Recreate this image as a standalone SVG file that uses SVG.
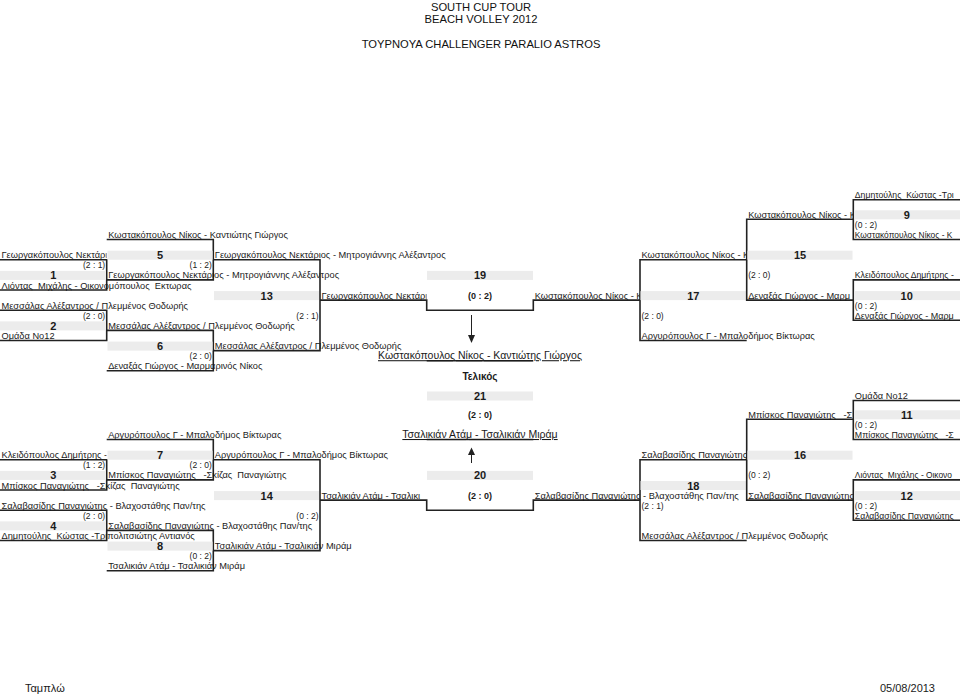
<svg xmlns="http://www.w3.org/2000/svg" width="960" height="694" viewBox="0 0 960 694" xml:space="preserve">
<style>
text{font-family:"Liberation Sans",Arial,sans-serif;fill:#1a1a1a;white-space:pre}
.t{font-size:9.25px}
.t2{font-size:8.4px}
.s{font-size:8.5px;fill:#222}
.e{text-anchor:end}
.c{text-anchor:middle}
.n{font-size:11px;font-weight:bold;text-anchor:middle}
.cs{font-size:9px;font-weight:bold;text-anchor:middle}
.w{font-size:10.5px;text-anchor:middle;text-decoration:underline}
.ti{font-size:11.2px;text-anchor:middle;fill:#111}
.b{fill:#ececec}
.l{stroke:#222;stroke-width:1.6;fill:none}
.a{stroke:#222;stroke-width:1;fill:none}
</style>
<defs>
<clipPath id="c1"><rect x="0" y="0" width="106.7" height="694"/></clipPath>
<clipPath id="c4"><rect x="0" y="0" width="426.7" height="694"/></clipPath>
<clipPath id="c6"><rect x="0" y="0" width="640" height="694"/></clipPath>
<clipPath id="c7"><rect x="0" y="0" width="746.7" height="694"/></clipPath>
<clipPath id="c8"><rect x="0" y="0" width="853.3" height="694"/></clipPath>
</defs>
<rect width="960" height="694" fill="#fff"/>

<g id="title">
<text class="ti" x="481" y="10.5">SOUTH CUP TOUR</text>
<text class="ti" x="481" y="23">BEACH VOLLEY 2012</text>
<text class="ti" x="481" y="48">TOYPNOYA CHALLENGER PARALIO ASTROS</text>
</g>

<!-- TOP HALF -->
<g id="m1">
<path class="l" d="M0 259.7H106.7V290H0"/>
<rect class="b" x="0" y="270.9" width="106" height="9"/>
<text class="n" x="53.3" y="279.4">1</text>
<text class="t" x="1.5" y="258.2" clip-path="url(#c1)">Γεωργακόπουλος Νεκτάρι</text>
<text class="s e" x="105.2" y="268.3">(2 : 1)</text>
<text class="t" x="1.5" y="288.5">Λιόντας  Μιχάλης - Οικονομόπουλος  Εκτωρας</text>
</g>
<g id="m2">
<path class="l" d="M0 310.2H106.7V340.5H0"/>
<rect class="b" x="0" y="321.4" width="106" height="9"/>
<text class="n" x="53.3" y="329.9">2</text>
<text class="t" x="1.5" y="308.7">Μεσσάλας Αλέξαντρος / Πλεμμένος Θοδωρής</text>
<text class="s e" x="105.2" y="318.8">(2 : 0)</text>
<text class="t" x="1.5" y="339">Ομάδα Νο12</text>
</g>
<g id="m5">
<path class="l" d="M106.7 239.5H213.3V279.9H106.7"/>
<rect class="b" x="107.5" y="250.7" width="105" height="9"/>
<text class="n" x="160" y="259.2">5</text>
<text class="t" x="108.2" y="238">Κωστακόπουλος Νίκος - Καντιώτης Γιώργος</text>
<text class="s e" x="211.8" y="268.3">(1 : 2)</text>
<text class="t" x="108.2" y="278.4">Γεωργακόπουλος Νεκτάριος - Μητρογιάννης Αλέξαντρος</text>
</g>
<g id="m6">
<path class="l" d="M106.7 330.4H213.3V370.8H106.7"/>
<rect class="b" x="107.5" y="341.6" width="105" height="9"/>
<text class="n" x="160" y="350.1">6</text>
<text class="t" x="108.2" y="328.9">Μεσσάλας Αλέξαντρος / Πλεμμένος Θοδωρής</text>
<text class="s e" x="211.8" y="359.2">(2 : 0)</text>
<text class="t" x="108.2" y="369.3">Δεναξάς Γιώργος - Μαρμαρινός Νίκος</text>
</g>
<g id="m13">
<path class="l" d="M213.3 259.7H320V350.6H213.3"/>
<rect class="b" x="214" y="291.1" width="105" height="9"/>
<text class="n" x="266.7" y="299.6">13</text>
<text class="t" x="214.8" y="258.2">Γεωργακόπουλος Νεκτάριος - Μητρογιάννης Αλέξαντρος</text>
<text class="s e" x="318.5" y="318.8">(2 : 1)</text>
<text class="t" x="214.8" y="349.1">Μεσσάλας Αλέξαντρος / Πλεμμένος Θοδωρής</text>
</g>
<g id="m19">
<path class="l" d="M320 300.1H426.7V310.2H533.3V300.1H640"/>
<rect class="b" x="427" y="270.9" width="106" height="9"/>
<text class="n" x="480" y="279.4">19</text>
<text class="t" x="321.5" y="298.6" clip-path="url(#c4)">Γεωργακόπουλος Νεκτάρι</text>
<text class="cs" x="480" y="298.6">(0 : 2)</text>
<text class="t" x="534.8" y="298.6" clip-path="url(#c6)">Κωστακόπουλος Νίκος - Κ</text>
</g>
<g id="final-top">
<line class="l" x1="426.7" y1="360.7" x2="533.3" y2="360.7"/>
<text class="w" x="480" y="359.2">Κωστακόπουλος Νίκος - Καντιώτης Γιώργος</text>
<text class="c" x="480" y="379.6" style="font-size:10px;font-weight:bold">Τελικός</text>
</g>
<g id="m17">
<path class="l" d="M746.7 259.7H640V340.5H746.7"/>
<rect class="b" x="640.5" y="291.1" width="106" height="9"/>
<text class="n" x="693.3" y="299.6">17</text>
<text class="t" x="641.5" y="258.2" clip-path="url(#c7)">Κωστακόπουλος Νίκος - Κ</text>
<text class="s" x="641.5" y="318.8">(2 : 0)</text>
<text class="t" x="641.5" y="339">Αργυρόπουλος Γ - Μπαλοδήμος Βίκτωρας</text>
</g>
<g id="m15">
<path class="l" d="M853.3 219.3H746.7V300.1H853.3"/>
<rect class="b" x="747.5" y="250.7" width="105" height="9"/>
<text class="n" x="800" y="259.2">15</text>
<text class="t" x="748.2" y="217.8" clip-path="url(#c8)">Κωστακόπουλος Νίκος - Κ</text>
<text class="s" x="748.2" y="278.4">(2 : 0)</text>
<text class="t" x="748.2" y="298.6" clip-path="url(#c8)">Δεναξάς Γιώργος - Μαρμ</text>
</g>
<g id="m9">
<path class="l" d="M960 199.8H853.3V239.5H960"/>
<rect class="b" x="854" y="210.3" width="106" height="9"/>
<text class="n" x="906.7" y="218.8">9</text>
<text class="t" x="854.8" y="198.3" textLength="99" lengthAdjust="spacingAndGlyphs">Δημητούλης  Κώστας -Τρι</text>
<text class="s" x="854.8" y="227.9">(0 : 2)</text>
<text class="t2" x="854.8" y="238">Κωστακόπουλος Νίκος - Κ</text>
</g>
<g id="m10">
<path class="l" d="M960 279.9H853.3V320.3H960"/>
<rect class="b" x="854" y="291.1" width="106" height="9"/>
<text class="n" x="906.7" y="299.6">10</text>
<text class="t" x="854.8" y="278.4" textLength="99" lengthAdjust="spacingAndGlyphs">Κλειδόπουλος Δημήτρης -</text>
<text class="s" x="854.8" y="308.7">(0 : 2)</text>
<text class="t" x="854.8" y="318.8" textLength="99" lengthAdjust="spacingAndGlyphs">Δεναξάς Γιώργος - Μαρμ</text>
</g>

<!-- BOTTOM HALF -->
<g id="m21">
<rect class="b" x="427" y="391.5" width="106" height="9"/>
<text class="n" x="480" y="400">21</text>
<text class="cs" x="480" y="417.8">(2 : 0)</text>
<line class="l" x1="426.7" y1="439.5" x2="533.3" y2="439.5"/>
<text class="w" x="480" y="438">Τσαλικιάν Ατάμ - Τσαλικιάν Μιράμ</text>
</g>
<g id="m3">
<path class="l" d="M0 459.7H106.7V490H0"/>
<rect class="b" x="0" y="470.9" width="106" height="9"/>
<text class="n" x="53.3" y="479.4">3</text>
<text class="t" x="1.5" y="458.2" clip-path="url(#c1)">Κλειδόπουλος Δημήτρης -</text>
<text class="s e" x="105.2" y="468.3">(1 : 2)</text>
<text class="t" x="1.5" y="488.5">Μπίσκος Παναγιώτης   -Σκίζας  Παναγιώτης</text>
</g>
<g id="m4">
<path class="l" d="M0 510.2H106.7V540.5H0"/>
<rect class="b" x="0" y="521.4" width="106" height="9"/>
<text class="n" x="53.3" y="529.9">4</text>
<text class="t" x="1.5" y="508.7">Σαλαβασίδης Παναγιώτης - Βλαχοστάθης Παν/της</text>
<text class="s e" x="105.2" y="518.8">(2 : 0)</text>
<text class="t" x="1.5" y="539">Δημητούλης  Κώστας -Τριπολιτσιώτης Αντιανός</text>
</g>
<g id="m7">
<path class="l" d="M106.7 439.5H213.3V479.9H106.7"/>
<rect class="b" x="107.5" y="450.7" width="105" height="9"/>
<text class="n" x="160" y="459.2">7</text>
<text class="t" x="108.2" y="438">Αργυρόπουλος Γ - Μπαλοδήμος Βίκτωρας</text>
<text class="s e" x="211.8" y="468.3">(2 : 0)</text>
<text class="t" x="108.2" y="478.4">Μπίσκος Παναγιώτης   -Σκίζας  Παναγιώτης</text>
</g>
<g id="m8">
<path class="l" d="M106.7 530.4H213.3V570.8H106.7"/>
<rect class="b" x="107.5" y="541.6" width="105" height="9"/>
<text class="n" x="160" y="550.1">8</text>
<text class="t" x="108.2" y="528.9">Σαλαβασίδης Παναγιώτης - Βλαχοστάθης Παν/της</text>
<text class="s e" x="211.8" y="559.2">(0 : 2)</text>
<text class="t" x="108.2" y="569.3">Τσαλικιάν Ατάμ - Τσαλικιάν Μιράμ</text>
</g>
<g id="m14">
<path class="l" d="M213.3 459.7H320V550.6H213.3"/>
<rect class="b" x="214" y="491.1" width="105" height="9"/>
<text class="n" x="266.7" y="499.6">14</text>
<text class="t" x="214.8" y="458.2">Αργυρόπουλος Γ - Μπαλοδήμος Βίκτωρας</text>
<text class="s e" x="318.5" y="518.8">(0 : 2)</text>
<text class="t" x="214.8" y="549.1">Τσαλικιάν Ατάμ - Τσαλικιάν Μιράμ</text>
</g>
<g id="m20">
<path class="l" d="M320 500.1H426.7V510.2H533.3V500.1H640"/>
<rect class="b" x="427" y="470.9" width="106" height="9"/>
<text class="n" x="480" y="479.4">20</text>
<text class="t" x="321.5" y="498.6" clip-path="url(#c4)">Τσαλικιάν Ατάμ - Τσαλικι</text>
<text class="cs" x="480" y="498.6">(2 : 0)</text>
<text class="t" x="534.8" y="498.6" clip-path="url(#c7)">Σαλαβασίδης Παναγιώτης - Βλαχοστάθης Παν/της</text>
</g>
<g id="m18">
<path class="l" d="M746.7 459.7H640V540.5H746.7"/>
<rect class="b" x="640.5" y="481" width="106" height="9"/>
<text class="n" x="693.3" y="489.5">18</text>
<text class="t" x="641.5" y="458.2" clip-path="url(#c7)">Σαλαβασίδης Παναγιώτης</text>
<text class="s" x="641.5" y="508.7">(2 : 1)</text>
<text class="t" x="641.5" y="539">Μεσσάλας Αλέξαντρος / Πλεμμένος Θοδωρής</text>
</g>
<g id="m16">
<path class="l" d="M853.3 419.3H746.7V500.1H853.3"/>
<rect class="b" x="747.5" y="450.7" width="105" height="9"/>
<text class="n" x="800" y="459.2">16</text>
<text class="t" x="748.2" y="417.8" clip-path="url(#c8)">Μπίσκος Παναγιώτης   -Σ</text>
<text class="s" x="748.2" y="478.4">(0 : 2)</text>
<text class="t" x="748.2" y="498.6" clip-path="url(#c8)">Σαλαβασίδης Παναγιώτης</text>
</g>
<g id="m11">
<path class="l" d="M960 400.5H853.3V439.5H960"/>
<rect class="b" x="854" y="410.3" width="106" height="9"/>
<text class="n" x="906.7" y="418.8">11</text>
<text class="t" x="854.8" y="399">Ομάδα Νο12</text>
<text class="s" x="854.8" y="427.9">(0 : 2)</text>
<text class="t" x="854.8" y="438" textLength="99" lengthAdjust="spacingAndGlyphs">Μπίσκος Παναγιώτης   -Σ</text>
</g>
<g id="m12">
<path class="l" d="M960 479.9H853.3V520.3H960"/>
<rect class="b" x="854" y="491.1" width="106" height="9"/>
<text class="n" x="906.7" y="499.6">12</text>
<text class="t2" x="854.8" y="478.4">Λιόντας  Μιχάλης - Οικονο</text>
<text class="s" x="854.8" y="508.7">(0 : 2)</text>
<text class="t" x="854.8" y="518.8" textLength="99" lengthAdjust="spacingAndGlyphs">Σαλαβασίδης Παναγιώτης</text>
</g>

<g id="connectors">
<line class="a" x1="471.5" y1="315" x2="471.5" y2="335"/>
<polygon points="468,335 475,335 471.5,343" fill="#222"/>
<line class="a" x1="471.5" y1="463" x2="471.5" y2="455"/>
<polygon points="468,455 475,455 471.5,447.5" fill="#222"/>
</g>

<g id="footer">
<text x="25" y="692" style="font-size:11px">Ταμπλώ</text>
<text x="935" y="692" style="font-size:11px;text-anchor:end">05/08/2013</text>
</g>
</svg>
